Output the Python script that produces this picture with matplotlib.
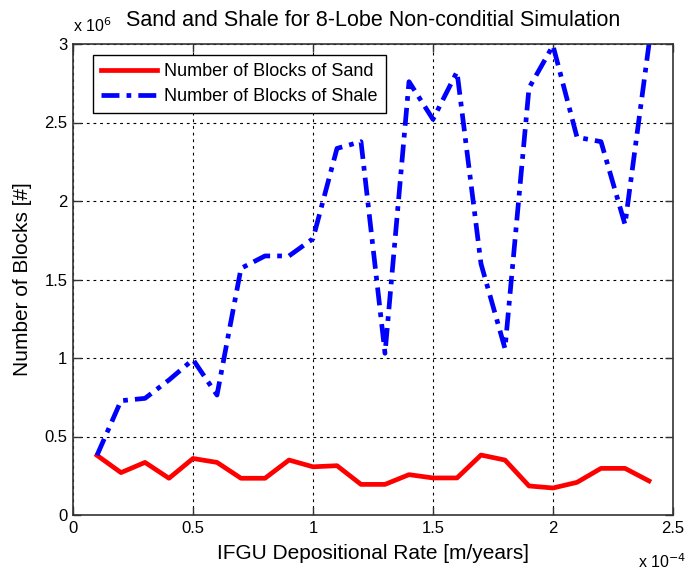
import matplotlib
matplotlib.use("Agg")
import matplotlib.pyplot as plt

# Depositional rate (units of 1e-4 m/years) and block counts (units of 1e6)
rate = [0.1, 0.2, 0.3, 0.4, 0.5, 0.6, 0.7, 0.8, 0.9, 1.0, 1.1, 1.2,
        1.3, 1.4, 1.5, 1.6, 1.7, 1.8, 1.9, 2.0, 2.1, 2.2, 2.3, 2.4]
sand_blocks = [0.38, 0.27, 0.335, 0.234, 0.36, 0.335, 0.234, 0.234, 0.35, 0.307, 0.314, 0.195,
               0.195, 0.257, 0.236, 0.236, 0.382, 0.35, 0.185, 0.172, 0.208, 0.297, 0.297, 0.217]
shale_blocks = [0.38, 0.728, 0.743, 0.86, 0.99, 0.764, 1.571, 1.65, 1.65, 1.76, 2.335, 2.378,
                1.03, 2.76, 2.52, 2.823, 1.6, 1.06, 2.72, 2.99, 2.406, 2.378, 1.85, 3.0]
xticks = [0, 0.5, 1, 1.5, 2, 2.5]
xticklabels = ["0", "0.5", "1", "1.5", "2", "2.5"]
yticks = [0, 0.5, 1, 1.5, 2, 2.5, 3]
yticklabels = ["0", "0.5", "1", "1.5", "2", "2.5", "3"]

plt.rcParams["font.family"] = ["Liberation Sans", "DejaVu Sans"]

fig = plt.figure(figsize=(6.85, 5.72), dpi=100)
ax = fig.add_axes([73 / 685, 57 / 572, 600 / 685, 471 / 572])

ax.plot(rate, sand_blocks, color="#ff0000", lw=3.4, ls="-", label="Number of Blocks of Sand")
ax.plot(rate, shale_blocks, color="#0000ff", lw=3.4, ls="-.", dashes=(3.8, 1.5, 1.0, 1.5),
        label="Number of Blocks of Shale")

ax.set_xlim(0, 2.5)
ax.set_ylim(0, 3)
ax.set_xticks(xticks)
ax.set_xticklabels(xticklabels)
ax.set_yticks(yticks)
ax.set_yticklabels(yticklabels)
ax.grid(True, color="black", ls=(0, (2.5, 3.5)), lw=0.8)
ax.tick_params(direction="in", top=True, right=True, length=6, width=1,
               labelsize=12, color="#333333", pad=4)
for s in ax.spines.values():
    s.set_color("#333333")
    s.set_linewidth(1.2)

ax.set_xlabel("IFGU Depositional Rate [m/years]", fontsize=15, labelpad=6)
ax.set_ylabel("Number of Blocks [#]", fontsize=15, labelpad=9)
ax.set_title("Sand and Shale for 8-Lobe Non-conditial Simulation", fontsize=15.5, pad=13)

fig.text(73 / 685, 1 - 32 / 572, r"x 10$^{6}$", fontsize=11.5, ha="left", va="baseline")
fig.text(0.966, 0.002, r"x 10$^{-4}$", fontsize=11.5, ha="center", va="bottom")

leg = ax.legend(loc="upper left", bbox_to_anchor=(0.033, 0.977), borderaxespad=0,
                fontsize=13, fancybox=False, framealpha=1, edgecolor="black",
                handlelength=3.1, borderpad=0.45, labelspacing=0.45, handletextpad=0.4)
leg.get_frame().set_linewidth(1.0)

fig.savefig("out.png", dpi=100)
